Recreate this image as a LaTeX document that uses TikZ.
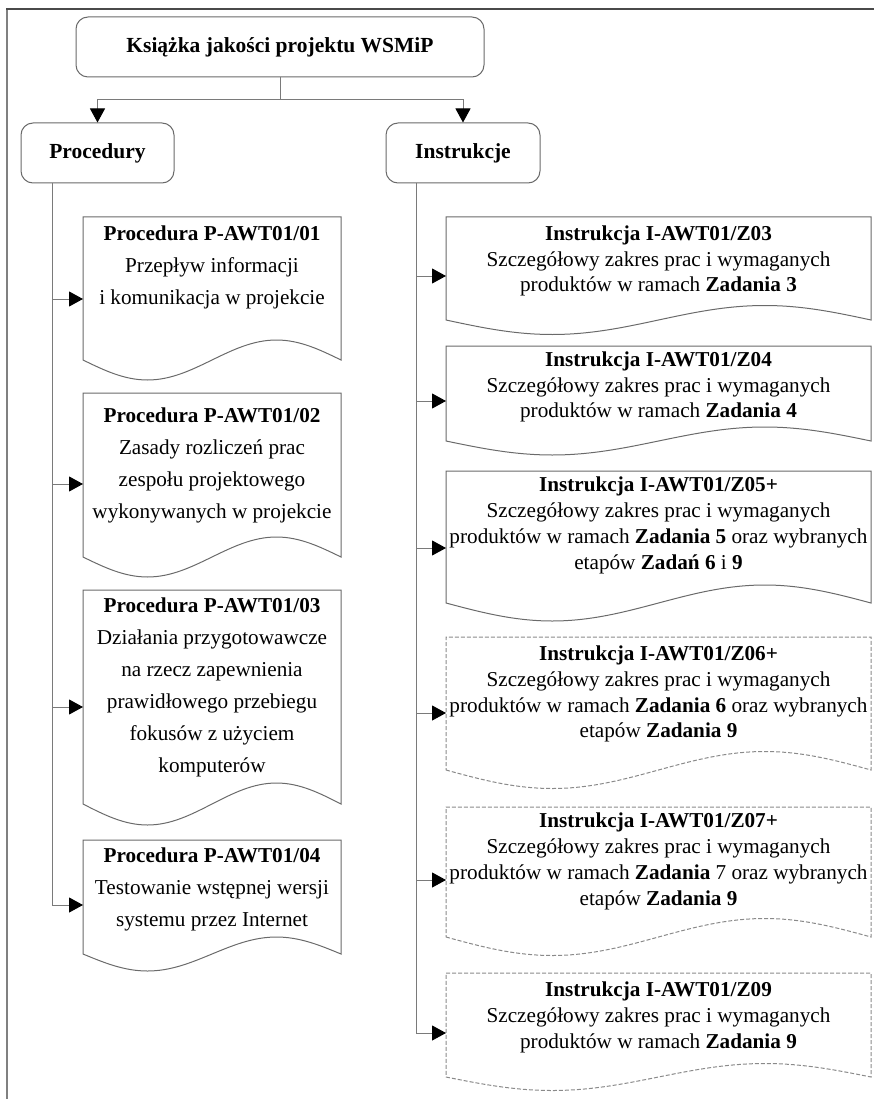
\documentclass[tikz,border=0pt]{standalone}
\usepackage{fontspec}
\setmainfont{Liberation Serif}
\usetikzlibrary{arrows.meta}
\definecolor{boxc}{HTML}{6A6A6A}
\definecolor{connc}{HTML}{7A7A7A}
\definecolor{dashc}{HTML}{8A8A8A}
\definecolor{framet}{HTML}{4A4A4A}
\definecolor{framel}{HTML}{808080}
% #1 style, #2 left, #3 right, #4 top, #5 wave ends, #6 amplitude
\newcommand\docpath[6]{%
  \draw[#1] (#2,#5) sin ({#2+(#3-#2)/4},{#5+#6}) cos ({(#2+#3)/2},#5)
    sin ({#2+3*(#3-#2)/4},{#5-#6}) cos (#3,#5) -- (#3,#4) -- (#2,#4) -- cycle;}
\begin{document}
\begin{tikzpicture}[x=1pt,y=-1pt,
  box/.style={draw=boxc, line width=1pt, rounded corners=12pt, inner sep=0pt,
    font=\fontsize{21.5}{26}\selectfont\bfseries},
  conn/.style={draw=connc, line width=1pt},
  arr/.style={conn, -{Triangle[length=14pt,width=15pt,color=black,fill=black]}},
  ltxt/.style={align=center, inner sep=0pt, font=\fontsize{21.2}{32}\selectfont},
  rtxt/.style={align=center, inner sep=0pt, font=\fontsize{21.2}{25.8}\selectfont},
  docline/.style={draw=boxc, line width=1pt},
  docdash/.style={draw=dashc, line width=1pt, dash pattern=on 4pt off 2pt}]
\useasboundingbox (0,0) rectangle (874,1099);

% frame
\draw[draw=framel, line width=1.3pt] (7,1099) -- (7,9);
\draw[draw=framet, line width=1.3pt] (6.35,9) -- (874,9);

% top level
\node[box, minimum width=408pt, minimum height=60pt] (top) at (280,47) {Książka jakości projektu WSMiP};
\node[box, minimum width=153pt, minimum height=60pt] (pro) at (97.5,153) {Procedury};
\node[box, minimum width=154pt, minimum height=60pt] (ins) at (463,153) {Instrukcje};
\coordinate (split) at (280,100);
\draw[conn] (top.south) -- (split);
\draw[arr] (split) -| (pro.north);
\draw[arr] (split) -| (ins.north);

% left documents
\docpath{docline}{83}{341}{217}{360}{20}
\docpath{docline}{83}{341}{393}{557}{20}
\docpath{docline}{83}{341}{590}{804}{21}
\docpath{docline}{83}{341}{840}{954}{17}
\node[ltxt] (p1) at (212,267) {\textbf{Procedura P-AWT01/01}\\Przepływ informacji\\i komunikacja w projekcie};
\node[ltxt] (p2) at (212,465) {\textbf{Procedura P-AWT01/02}\\Zasady rozliczeń prac\\zespołu projektowego\\wykonywanych w projekcie};
\node[ltxt] (p3) at (212,687.5) {\textbf{Procedura P-AWT01/03}\\Działania przygotowawcze\\na rzecz zapewnienia\\prawidłowego przebiegu\\fokusów z użyciem\\komputerów};
\node[ltxt] (p4) at (212,889.5) {\textbf{Procedura P-AWT01/04}\\Testowanie wstępnej wersji\\systemu przez Internet};

\coordinate (ls) at (52,183);
\coordinate (p1in) at (83,299);
\coordinate (p2in) at (83,484);
\coordinate (p3in) at (83,707);
\coordinate (p4in) at (83,905);
\draw[arr] (ls |- p1in) -- (p1in);
\draw[arr] (ls |- p2in) -- (p2in);
\draw[arr] (ls |- p3in) -- (p3in);
\draw[arr] (ls) |- (p4in);

% right documents
\docpath{docline}{446}{871}{217}{320}{14.5}
\docpath{docline}{446}{871}{346}{441}{14}
\docpath{docline}{446}{871}{471}{603}{18}
\docpath{docdash}{446}{871}{637}{770}{18.5}
\docpath{docdash}{446}{871}{807}{937}{18.5}
\docpath{docdash}{446}{871}{973}{1077}{13.5}
\node[rtxt] (i1) at (658.5,261) {\textbf{Instrukcja I-AWT01/Z03}\\Szczegółowy zakres prac i wymaganych\\produktów w ramach \textbf{Zadania 3}};
\node[rtxt] (i2) at (658.5,387) {\textbf{Instrukcja I-AWT01/Z04}\\Szczegółowy zakres prac i wymaganych\\produktów w ramach \textbf{Zadania 4}};
\node[rtxt] (i3) at (658.5,525.5) {\textbf{Instrukcja I-AWT01/Z05+}\\Szczegółowy zakres prac i wymaganych\\produktów w ramach \textbf{Zadania 5} oraz wybranych\\etapów \textbf{Zadań 6} i \textbf{9}};
\node[rtxt] (i4) at (658.5,694) {\textbf{Instrukcja I-AWT01/Z06+}\\Szczegółowy zakres prac i wymaganych\\produktów w ramach \textbf{Zadania 6} oraz wybranych\\etapów \textbf{Zadania 9}};
\node[rtxt] (i5) at (658.5,861.5) {\textbf{Instrukcja I-AWT01/Z07+}\\Szczegółowy zakres prac i wymaganych\\produktów w ramach \textbf{Zadania} 7 oraz wybranych\\etapów \textbf{Zadania 9}};
\node[rtxt] (i6) at (658.5,1017.5) {\textbf{Instrukcja I-AWT01/Z09}\\Szczegółowy zakres prac i wymaganych\\produktów w ramach \textbf{Zadania 9}};

\coordinate (rs) at (416,183);
\coordinate (i1in) at (446,276);
\coordinate (i2in) at (446,401);
\coordinate (i3in) at (446,548);
\coordinate (i4in) at (446,713);
\coordinate (i5in) at (446,880);
\coordinate (i6in) at (446,1033);
\draw[arr] (rs |- i1in) -- (i1in);
\draw[arr] (rs |- i2in) -- (i2in);
\draw[arr] (rs |- i3in) -- (i3in);
\draw[arr] (rs |- i4in) -- (i4in);
\draw[arr] (rs |- i5in) -- (i5in);
\draw[arr] (rs) |- (i6in);
\end{tikzpicture}
\end{document}
